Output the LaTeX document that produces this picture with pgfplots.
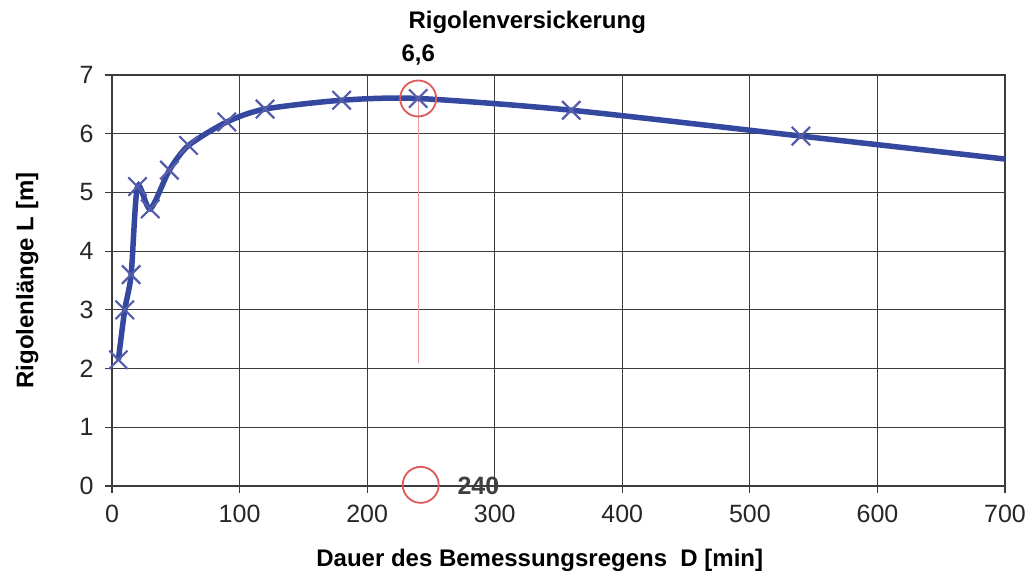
\documentclass[border=0pt]{standalone}
\usepackage{fontspec}
\setmainfont{Liberation Sans}
\usepackage{pgfplots}
\pgfplotsset{compat=1.18}

\definecolor{curve}{RGB}{52,72,160}
\definecolor{mk}{RGB}{85,92,170}
\definecolor{ring}{RGB}{222,90,90}
\definecolor{gridc}{RGB}{60,60,60}

\begin{document}
\begin{tikzpicture}
\begin{axis}[
  scale only axis,
  width=893pt, height=411pt,
  xmin=0, xmax=700, ymin=0, ymax=7,
  xtick={0,100,...,700}, ytick={0,1,...,7},
  grid=major,
  major grid style={gridc, line width=1.1pt},
  axis line style={gridc, line width=1.1pt},
  tick style={gridc, line width=1.1pt},
  tick align=outside, major tick length=7pt,
  xtick pos=bottom, ytick pos=left,
  /pgf/number format/assume math mode=true,
  tick label style={font=\fontsize{25}{29}\selectfont, text=black!85},
  xticklabel style={yshift=-8pt},
  yticklabel style={xshift=-8pt},
  xlabel={Dauer des Bemessungsregens\ \ D [min]},
  xlabel style={font=\fontsize{24}{28}\selectfont\bfseries, at={(rel axis cs:0.479,-0.18)}, anchor=center},
  ylabel={Rigolenlänge L [m]},
  ylabel style={font=\fontsize{24}{28}\selectfont\bfseries, at={(rel axis cs:-0.095,0.5)}, anchor=center},
  clip mode=individual,
]
% Stichlinie zum Maximum
\addplot[ring!60, line width=0.8pt] coordinates {(240,2.1) (240,6.6)};
% Kurve
\addplot[curve, line width=5.5pt, smooth, tension=0.45] coordinates {
  (5,2.15) (10,3.0) (15,3.6) (20,5.1) (30,4.72) (45,5.38) (60,5.8)
  (90,6.2) (120,6.42) (180,6.57) (240,6.6) (360,6.4) (540,5.96) (720,5.52)};
\addplot[only marks, mark=x, mark size=13pt, mk, mark options={line width=2.2pt}] coordinates {
  (5,2.15) (10,3.0) (15,3.6) (20,5.1) (30,4.72) (45,5.38) (60,5.8)
  (90,6.2) (120,6.42) (180,6.57) (240,6.6) (360,6.4) (540,5.96)};
% Kreise
\addplot[only marks, mark=o, mark size=18pt, ring, mark options={line width=1.8pt}, clip=false] coordinates {(240,6.6) (242,0.02)};

\node[font=\fontsize{24}{28}\selectfont\bfseries] at (rel axis cs:0.465,1.129) {Rigolenversickerung};
\node[font=\fontsize{24}{28}\selectfont\bfseries] at (rel axis cs:0.343,1.049) {6,6};
\node[font=\fontsize{25}{29}\selectfont\bfseries, text=black!75, anchor=west] at (rel axis cs:0.383,0.0) {240};

\coordinate (bl) at (rel axis cs:-0.1254,-0.2311);
\coordinate (tr) at (rel axis cs:1.0302,1.1825);
\end{axis}
\pgfresetboundingbox
\path[use as bounding box] (bl) rectangle (tr);
\end{tikzpicture}
\end{document}
